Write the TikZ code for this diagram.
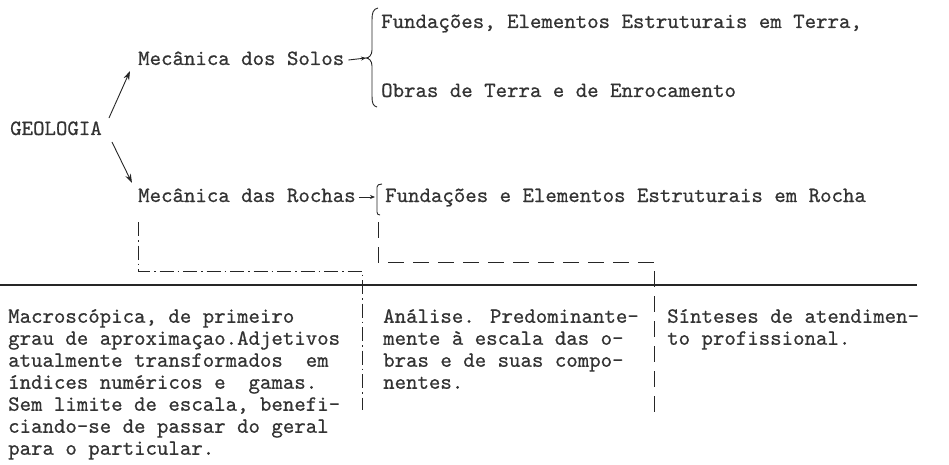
\documentclass[tikz,border=0pt]{standalone}
\usepackage{fontspec}
\newfontfamily\twfont{lmmono10-regular.otf}[FakeBold=0.6]
\usetikzlibrary{arrows.meta}
\begin{document}
\begin{tikzpicture}[x=1pt,y=-1pt,
  ink/.style={draw=black!85, line width=0.9pt},
  tw/.style={font=\fontsize{21.8}{22}\selectfont\twfont, text=black!80, inner sep=0pt, anchor=west, text height=14pt, text depth=4pt},
  col/.style={font=\fontsize{21.8}{22}\selectfont\twfont, text=black!80, inner sep=0pt, anchor=north west, align=left},
  arr/.style={ink, -{Stealth[length=9pt,width=6pt]}},
  sarr/.style={ink, -{Stealth[length=5pt,width=4pt]}},
  dd/.style={ink, dash pattern=on 14pt off 4pt on 1.5pt off 4pt},
  dsh/.style={ink, dash pattern=on 16pt off 9pt}]
\useasboundingbox (0,0) rectangle (949,465);
\fill[white] (0,0) rectangle (949,465);

% nodes
\node[tw] (geo) at (10,130) {GEOLOGIA};
\node[tw] (solos) at (138,60) {Mecânica dos Solos};
\node[tw] (rochas) at (138,197) {Mecânica das Rochas};
\node[tw] (f1) at (381,23) {Fundações, Elementos Estruturais em Terra,};
\node[tw] (f2) at (381,92) {Obras de Terra e de Enrocamento};
\node[tw] (f3) at (385,197) {Fundações e Elementos Estruturais em Rocha};

% arrows from GEOLOGIA
\draw[arr] ([shift={(7,-12)}]geo.east) -- ([shift={(-8,11)}]solos.west);
\draw[arr] ([shift={(10,12)}]geo.east) -- ([shift={(-6,-14)}]rochas.west);

% brace for solos
\coordinate (btip) at (366,58);
\draw[ink] (378,8) .. controls (373,9) and (372,13) .. (372,20) -- (372,50)
  .. controls (372,55) and (369,58) .. (btip)
  .. controls (369,58) and (372,61) .. (372,66) -- (372,96)
  .. controls (372,103) and (373,106) .. (377,107);
\draw[sarr] ([xshift=4pt]solos.east) -- (btip);

% bracket for rochas
\coordinate (bk) at (375,197);
\draw[ink] (382,184) .. controls (379,184) and (377,185) .. (377,187) -- (377,212) .. controls (377,214) and (378,215) .. (380,215);
\draw[sarr] ([xshift=3pt]rochas.east) -- (bk);

% separators
\coordinate (hl) at (0,285);
\coordinate (hr) at (917,285);
\draw[draw=black!85, line width=1.3pt] (hl) -- (hr);

\coordinate (la) at (138,222);
\coordinate (lb) at (138,271);
\coordinate (lc) at (362,271);
\coordinate (ld) at (362,410);
\draw[dd] (la) -- (lb) -- (lc) -- (ld);

\coordinate (ra) at (378,222);
\coordinate (rb) at (378,262);
\coordinate (rc) at (654,262);
\coordinate (rd) at (654,420);
\draw[dsh] (ra) -- (rb) -- (rc) -- (rd);

% columns
\node[col] (c1) at (8,309) {Macroscópica, de primeiro\\
grau de aproximaçao.Adjetivos\\
atualmente transformados\ \ em\\
índices numéricos e\ \ gamas.\\
Sem limite de escala, benefi-\\
ciando-se de passar do geral\\
para o particular.};
\node[col] (c2) at (383,309) {Análise. Predominante-\\
mente à escala das o-\\
bras e de suas compo-\\
nentes.};
\node[col] (c3) at (667,309) {Sínteses de atendimen-\\
to profissional.};
\end{tikzpicture}
\end{document}
